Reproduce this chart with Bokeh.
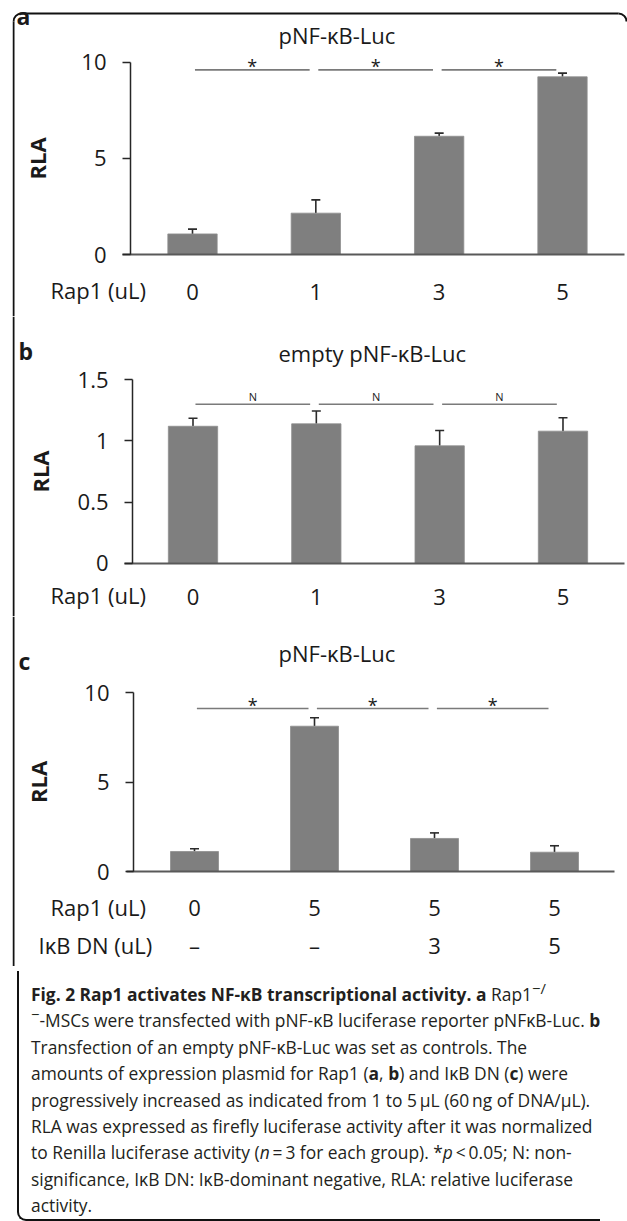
import math
from bokeh.plotting import figure
from bokeh.models import (ColumnDataSource, Range1d, FixedTicker, Whisker, TeeHead,
                          LinearAxis, Div, NumeralTickFormatter)
from bokeh.layouts import column
from bokeh.embed import file_html
from bokeh.resources import INLINE
from bokeh.core.properties import value

FONT = "Open Sans"
INK = "#1a1a1a"
BAR = "#7f7f7f"
FRAME = "#111111"

# ---------------- data ----------------
rap1_a = ["0", "1", "3", "5"]
rla_a = [1.07, 2.15, 6.15, 9.24]
err_a = [0.25, 0.69, 0.16, 0.19]
sig_a = ["*", "*", "*"]
sig_level_a = 9.6
yticks_a = [0, 5, 10]
title_a = "pNF-\u03baB-Luc"

rap1_b = ["0", "1", "3", "5"]
rla_b = [1.12, 1.14, 0.96, 1.08]
err_b = [0.065, 0.105, 0.125, 0.11]
sig_b = ["N", "N", "N"]
sig_level_b = 1.30
yticks_b = [0, 0.5, 1, 1.5]
title_b = "empty pNF-\u03baB-Luc"

rap1_c = ["0", "5", "5", "5"]
ikb_c = ["\u2013", "\u2013", "3", "5"]
rla_c = [1.12, 8.13, 1.85, 1.08]
err_c = [0.15, 0.47, 0.31, 0.36]
sig_c = ["*", "*", "*"]
sig_level_c = 9.12
yticks_c = [0, 5, 10]
title_c = "pNF-\u03baB-Luc"

row_rap1 = "Rap1 (uL)"
row_ikb = "I\u03baB DN (uL)"

PAGE_L, PAGE_R = 12, 627   # page x span of the figures
FIG_W = PAGE_R - PAGE_L
BASE_SHIFT = 0.4           # em correction for the text baseline


def make_panel(L, letter, title, rows, row_names, vals, errs, sig_txt, sig_level,
               yticks, ymax, first=False):
    top, H = L["top"], L["H"]
    zx, dx, y0, dy = L["zero_x"], L["dx"], L["y0"], L["dy"]

    def X(px):
        return (px - zx) / dx

    def Y(py):
        return (y0 - py) / dy

    p = figure(width=FIG_W, height=H,
               x_range=Range1d(X(PAGE_L), X(PAGE_R)),
               y_range=Range1d(Y(top + H), Y(top)),
               output_backend="svg", toolbar_location=None, min_border=0,
               background_fill_color="white", border_fill_color="white")
    p.outline_line_color = None
    p.xgrid.visible = False
    p.ygrid.visible = False

    # ---- outer frame of the whole figure (left side / rounded top) ----
    r = 8
    y_start = 13 + r if first else top
    p.quad(left=[X(12)], right=[X(14)], top=[Y(y_start)], bottom=[Y(top + H)],
           fill_color=FRAME, line_color=None)
    if first:
        p.quad(left=[X(13 + r)], right=[X(618)], top=[Y(12)], bottom=[Y(14)],
               fill_color=FRAME, line_color=None)
        p.arc(x=[X(13 + r)], y=[Y(13 + r)], radius=r, radius_units="screen",
              start_angle=math.pi / 2, end_angle=math.pi,
              line_color=FRAME, line_width=2)
        p.arc(x=[X(618)], y=[Y(13 + r)], radius=r, radius_units="screen",
              start_angle=0, end_angle=math.pi / 2,
              line_color=FRAME, line_width=2)

    n = len(vals)
    xs = list(range(n))
    src = ColumnDataSource(dict(x=xs, top=vals,
                                upper=[v + e for v, e in zip(vals, errs)]))
    p.vbar(x="x", top="top", bottom=0, width=0.4, source=src,
           fill_color=BAR, line_color="#8e8e8e", line_width=0.8)
    p.add_layout(Whisker(base="x", lower="top", upper="upper", source=src,
                         dimension="height", line_color="#2b2b2b", line_width=1.6,
                         upper_head=TeeHead(size=9, line_color="#2b2b2b", line_width=1.6),
                         lower_head=None))

    # significance brackets between neighbouring groups
    sx0 = [i + 0.02 for i in range(n - 1)]
    sx1 = [i + 0.95 for i in range(n - 1)]
    star = sig_txt[0] == "*"
    lift = (3.5 if star else 8.0) / dy
    ssrc = ColumnDataSource(dict(x0=sx0, x1=sx1, y=[sig_level] * (n - 1),
                                 ty=[sig_level + lift] * (n - 1),
                                 xm=[(a + b) / 2 for a, b in zip(sx0, sx1)], t=sig_txt))
    p.segment(x0="x0", y0="y", x1="x1", y1="y", source=ssrc,
              line_color="#7a7a7a", line_width=1.6)
    p.text(x="xm", y="ty", text="t", source=ssrc, text_font=value(FONT),
           text_font_size=value("18px" if star else "11px"), text_align="center",
           text_baseline="alphabetic", text_color=INK)

    # x axis (drawn at y = 0, spanning a little left of the y axis)
    xa = p.xaxis[0]
    xa.fixed_location = 0
    xa.bounds = (X(L["xaxis"][0]), X(L["xaxis"][1]))
    xa.ticker = FixedTicker(ticks=xs)
    xa.major_label_overrides = {i: rows[0][i] for i in xs}
    xa.axis_line_color = "#595959"
    xa.axis_line_width = 2
    xa.major_tick_line_color = None
    xa.minor_tick_line_color = None
    xa.major_label_standoff = L["xstand"]
    xa.major_label_text_font = FONT
    xa.major_label_text_font_size = "22px"
    xa.major_label_text_color = INK

    for k, extra in enumerate(rows[1:]):
        ax2 = LinearAxis(ticker=FixedTicker(ticks=xs),
                         major_label_overrides={i: extra[i] for i in xs})
        ax2.fixed_location = Y(y0 + L["row_gap"] * (k + 1))
        ax2.bounds = xa.bounds
        ax2.axis_line_color = None
        ax2.major_tick_line_color = None
        ax2.minor_tick_line_color = None
        ax2.major_label_standoff = L["xstand"]
        ax2.major_label_text_font = FONT
        ax2.major_label_text_font_size = "22px"
        ax2.major_label_text_color = INK
        p.add_layout(ax2, "below")

    ya = p.yaxis[0]
    ya.fixed_location = X(L["yaxis_x"])
    ya.bounds = (0, ymax)
    ya.ticker = FixedTicker(ticks=yticks)
    ya.formatter = NumeralTickFormatter(format="0.[0]")
    ya.axis_line_color = "#262626"
    ya.axis_line_width = 1.5
    ya.major_tick_line_color = "#262626"
    ya.major_tick_line_width = 1.5
    ya.major_tick_out = 8
    ya.major_tick_in = 0
    ya.minor_tick_line_color = None
    ya.major_label_standoff = 16
    ya.major_label_text_font = FONT
    ya.major_label_text_font_size = "22px"
    ya.major_label_text_color = INK
    ya.axis_label = "RLA"
    ya.axis_label_text_font = FONT
    ya.axis_label_text_font_style = "bold"
    ya.axis_label_text_font_size = "22px"
    ya.axis_label_text_color = INK
    ya.axis_label_standoff = L["label_standoff"]

    def put(txt, px, py, size, style="normal"):
        p.text(x=[X(px)], y=[Y(py - BASE_SHIFT * size)], text=[txt],
               text_font=value(FONT), text_font_size=value(f"{size}px"),
               text_font_style=style, text_align="left",
               text_baseline="alphabetic", text_color=INK)

    put(letter, L["letter"][0], L["letter"][1], 23, "bold")
    put(title, L["title"][0], L["title"][1], 22)
    for name, (px, py) in zip(row_names, L["rows"]):
        put(name, px, py, 22)
    return p


LA = dict(top=0, H=316, zero_x=192, dx=123.33, y0=254, dy=19.23,
          yaxis_x=130, xaxis=(122, 624), xstand=23, label_standoff=26,
          letter=(16, 25), title=(278, 43.5), rows=[(50, 298)])
LB = dict(top=316, H=300, zero_x=192.5, dx=123.33, y0=562.7, dy=122.27,
          yaxis_x=132, xaxis=(124, 624), xstand=20, label_standoff=20,
          letter=(18, 360), title=(278, 361.7), rows=[(50, 603)])
LC = dict(top=616, H=350, zero_x=194, dx=120, y0=871, dy=17.87,
          yaxis_x=133, xaxis=(126, 614), xstand=22, label_standoff=28, row_gap=30,
          letter=(18, 670), title=(278, 661.7), rows=[(50, 915), (38, 953)])

pa = make_panel(LA, "a", title_a, [rap1_a], [row_rap1], rla_a, err_a, sig_a,
                sig_level_a, yticks_a, 10, first=True)
pb = make_panel(LB, "b", title_b, [rap1_b], [row_rap1], rla_b, err_b, sig_b,
                sig_level_b, yticks_b, 1.5)
pc = make_panel(LC, "c", title_c, [rap1_c, ikb_c], [row_rap1, row_ikb], rla_c, err_c,
                sig_c, sig_level_c, yticks_c, 10)

sup = "<sup style='font-size:0.85em;line-height:0;vertical-align:0.5em'>"
caption_lines = [
    "<b>Fig. 2 Rap1 activates NF-\u03baB transcriptional activity. a</b> Rap1"
    + sup + "\u2212/</sup>",
    sup + "\u2212</sup>-MSCs were transfected with "
    "pNF-\u03baB luciferase reporter pNF\u03baB-Luc. <b>b</b>",
    "Transfection of an empty pNF-\u03baB-Luc was set as controls. The",
    "amounts of expression plasmid for Rap1 (<b>a</b>, <b>b</b>) and I\u03baB DN (<b>c</b>) were",
    "progressively increased as indicated from 1 to 5\u2009\u03bcL (60\u2009ng of DNA/\u03bcL).",
    "RLA was expressed as firefly luciferase activity after it was normalized",
    "to Renilla luciferase activity (<i>n</i>\u2009=\u20093 for each group). "
    "*<i>p</i>\u2009&lt;\u20090.05; N: non-",
    "significance, I\u03baB DN: I\u03baB-dominant negative, RLA: relative luciferase",
    "activity.",
]
line_html = "".join(
    "<div style='height:26.4px;line-height:26.4px;margin:0;padding:0;white-space:nowrap'>"
    + ln + "</div>" for ln in caption_lines)
caption = Div(
    text="<div style=\"box-sizing:border-box;height:250px;margin:0;"
         "border-left:2px solid #111;border-bottom:2px solid #111;"
         "border-bottom-left-radius:9px;padding:10px 0 0 12px;"
         "font-family:'Open Sans',sans-serif;font-size:17.4px;color:#231f20;\">"
         + line_html + "</div>",
    width=FIG_W, height=250)

layout = column(pa, pb, pc, caption, styles={"margin": "0 0 0 12px"})

open("out.html", "w").write(file_html(layout, INLINE))
